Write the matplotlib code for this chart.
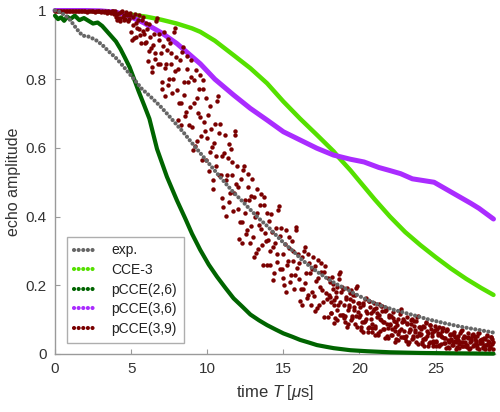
import numpy as np
import matplotlib
matplotlib.use("Agg")
import matplotlib.pyplot as plt
from matplotlib.lines import Line2D

plt.rcParams['font.family'] = ['Liberation Sans', 'DejaVu Sans']
plt.rcParams['mathtext.fontset'] = 'custom'
plt.rcParams['mathtext.rm'] = 'Liberation Sans'
plt.rcParams['mathtext.it'] = 'Liberation Sans:italic'

# ---------------- data ----------------
series_names = ["exp.", "CCE-3", "pCCE(2,6)", "pCCE(3,6)", "pCCE(3,9)"]

exp_t = [0, 0.35, 0.7, 1.0, 1.45, 1.8, 2.2, 2.65, 3.1, 3.5, 4.0, 4.4, 4.85, 5.3,
         5.7, 6.3, 6.9, 7.35, 8.0, 8.44, 9.0, 9.54, 10.1, 10.64, 11.2, 11.73,
         12.3, 12.83, 13.5, 14.0, 14.58, 15.1, 15.68, 16.2, 16.78, 17.3, 17.87,
         18.5, 19.1, 19.7, 20.3, 21.27, 22.3, 23.47, 24.5, 25.66, 26.7, 27.85, 28.84]
exp_y = [1.0, 0.995, 0.985, 0.972, 0.945, 0.927, 0.924, 0.915, 0.90, 0.882, 0.862,
         0.842, 0.818, 0.794, 0.772, 0.748, 0.722, 0.70, 0.667, 0.645, 0.614, 0.585,
         0.555, 0.526, 0.497, 0.47, 0.445, 0.42, 0.39, 0.37, 0.343, 0.32, 0.298,
         0.275, 0.254, 0.237, 0.22, 0.203, 0.19, 0.175, 0.162, 0.143, 0.128, 0.114,
         0.101, 0.089, 0.079, 0.07, 0.062]

cce3_t = [0, 1, 2, 3, 4, 5, 6, 7, 8, 9, 9.54, 10.5, 11.73, 12.83, 13.93, 15.0,
          16.1, 17.2, 18.3, 18.64, 19.4, 20.0, 21.0, 22.0, 23.0, 24.0, 25.0,
          26.0, 27.0, 28.0, 28.8]
cce3_y = [1.0, 1.0, 0.999, 0.997, 0.993, 0.988, 0.982, 0.973, 0.962, 0.948, 0.938,
          0.912, 0.870, 0.832, 0.788, 0.735, 0.685, 0.638, 0.59, 0.572, 0.535, 0.503,
          0.45, 0.40, 0.355, 0.317, 0.282, 0.249, 0.219, 0.192, 0.172]

p26_t = [0, 0.2, 0.4, 0.6, 0.8, 1.0, 1.3, 1.6, 1.9, 2.2, 2.5, 2.8, 3.1, 3.4, 3.7,
         4.0, 4.3, 4.6, 4.9, 5.2, 5.5, 5.85, 6.2, 6.7, 7.35, 8.0, 8.55, 9.0, 9.54,
         10.1, 10.64, 11.2, 11.73, 12.3, 12.83, 13.4, 13.93, 14.5, 15.0, 15.6, 16.1,
         16.7, 17.2, 17.8, 18.3, 19.4, 20.5, 22.0, 24.0, 26.0, 28.8]
p26_y = [0.985, 0.975, 0.98, 0.97, 0.982, 0.975, 0.985, 0.972, 0.978, 0.97, 0.962,
         0.965, 0.955, 0.94, 0.925, 0.91, 0.888, 0.862, 0.835, 0.80, 0.764, 0.725,
         0.685, 0.597, 0.516, 0.448, 0.395, 0.35, 0.303, 0.26, 0.225, 0.192, 0.162,
         0.138, 0.115, 0.098, 0.084, 0.071, 0.06, 0.05, 0.041, 0.033, 0.026, 0.021,
         0.017, 0.011, 0.008, 0.005, 0.003, 0.002, 0.001]

p36_t = [0, 1, 2, 3, 4, 4.7, 5.8, 7.0, 8.0, 9.54, 10.5, 11.73, 12.83, 13.93, 15.0,
         16.1, 17.2, 18.3, 19.4, 20.3, 21.27, 22.0, 22.7, 23.47, 24.9, 26.0, 27.3,
         27.85, 28.8]
p36_y = [1.0, 1.0, 1.0, 0.999, 0.995, 0.987, 0.965, 0.935, 0.904, 0.845, 0.80,
         0.754, 0.715, 0.681, 0.647, 0.623, 0.599, 0.579, 0.567, 0.559, 0.543, 0.534,
         0.525, 0.51, 0.50, 0.472, 0.439, 0.424, 0.393]

# pCCE(3,9), first sampling: one value every 0.1 us from 0 to 28.8
p39_t = np.round(np.arange(0, 28.85, 0.1), 2)
p39_y = [
    # 0.0 - 3.5
    1.0, 0.999, 1.0, 0.998, 1.0, 0.999, 1.0, 1.0, 0.998, 1.0, 0.999, 1.0,
    1.0, 0.998, 1.0, 0.999, 1.0, 0.998, 1.0, 0.999, 1.0, 0.997, 1.0, 0.999,
    0.998, 1.0, 0.996, 1.0, 0.998, 0.999, 0.995, 1.0, 0.997, 0.999, 0.994, 1.0,
    # 3.6 - 3.9
    0.997, 0.992, 1.0, 0.994,
    0.982, 0.971, 0.994, 0.978, 0.998, 0.986, 0.974, 0.990, 0.970, 0.987,  # 4
    0.937, 0.982, 0.919, 0.964, 0.950, 0.986, 0.928, 0.973, 0.941, 0.905,  # 5
    0.907, 0.852, 0.962, 0.891, 0.836, 0.931, 0.875, 0.978, 0.915, 0.844,  # 6
    0.792, 0.896, 0.750, 0.844, 0.917, 0.802, 0.875, 0.761, 0.938, 0.823,  # 7
    0.768, 0.680, 0.855, 0.730, 0.893, 0.793, 0.705, 0.830, 0.668, 0.805,  # 8
    0.661, 0.799, 0.606, 0.744, 0.703, 0.813, 0.634, 0.771, 0.675, 0.565,  # 9
    0.629, 0.534, 0.723, 0.602, 0.507, 0.669, 0.575, 0.750, 0.642, 0.521,  # 10
    0.455, 0.585, 0.403, 0.520, 0.611, 0.468, 0.559, 0.416, 0.637, 0.494,  # 11
    0.423, 0.335, 0.510, 0.385, 0.548, 0.448, 0.360, 0.485, 0.323, 0.460,  # 12
    0.341, 0.456, 0.295, 0.410, 0.375, 0.467, 0.318, 0.433, 0.352, 0.260,  # 13
    0.333, 0.258, 0.409, 0.312, 0.237, 0.366, 0.290, 0.430, 0.344, 0.247,  # 14
    0.220, 0.320, 0.180, 0.270, 0.340, 0.230, 0.300, 0.190, 0.360, 0.250,  # 15
    0.218, 0.153, 0.283, 0.190, 0.311, 0.236, 0.171, 0.264, 0.143, 0.246,  # 16
    0.169, 0.257, 0.133, 0.221, 0.195, 0.265, 0.151, 0.239, 0.177, 0.107,  # 17
    0.173, 0.120, 0.225, 0.158, 0.105, 0.195, 0.143, 0.240, 0.180, 0.113,  # 18
    0.104, 0.167, 0.079, 0.136, 0.179, 0.111, 0.154, 0.086, 0.192, 0.123,  # 19
    0.108, 0.069, 0.148, 0.092, 0.164, 0.120, 0.080, 0.136, 0.064, 0.125,  # 20
    0.082, 0.134, 0.062, 0.114, 0.098, 0.140, 0.072, 0.124, 0.088, 0.046,  # 21
    0.087, 0.054, 0.121, 0.078, 0.045, 0.102, 0.068, 0.130, 0.092, 0.049,  # 22
    0.048, 0.091, 0.030, 0.069, 0.099, 0.052, 0.082, 0.035, 0.108, 0.060,  # 23
    0.055, 0.028, 0.082, 0.043, 0.093, 0.062, 0.035, 0.074, 0.024, 0.066,  # 24
    0.039, 0.072, 0.026, 0.059, 0.049, 0.075, 0.033, 0.066, 0.042, 0.016,  # 25
    0.045, 0.025, 0.064, 0.039, 0.020, 0.053, 0.034, 0.070, 0.048, 0.022,  # 26
    0.025, 0.050, 0.015, 0.037, 0.055, 0.027, 0.045, 0.017, 0.060, 0.032,  # 27
    0.032, 0.016, 0.047, 0.025, 0.054, 0.036, 0.021, 0.043, 0.014,         # 28
]

# pCCE(3,9), interleaved samples: one value every 0.1 us from 3.65 to 28.75
p39b_t = np.round(np.arange(3.65, 28.8, 0.1), 2)
p39b_y = [
    0.995, 1.0, 0.991, 0.998,                                               # 3.65-3.95
    0.990, 0.978, 0.970, 0.997, 0.981, 0.973, 0.995, 0.986, 0.976, 0.994,  # 4
    0.914, 0.959, 0.991, 0.923, 0.973, 0.946, 0.905, 0.982, 0.932, 0.964,  # 5
    0.946, 0.883, 0.923, 0.820, 0.899, 0.860, 0.970, 0.844, 0.931, 0.875,  # 6
    0.771, 0.938, 0.834, 0.886, 0.782, 0.906, 0.844, 0.802, 0.948, 0.865,  # 7
    0.830, 0.730, 0.668, 0.880, 0.755, 0.693, 0.868, 0.793, 0.718, 0.855,  # 8
    0.593, 0.730, 0.826, 0.620, 0.771, 0.689, 0.565, 0.799, 0.648, 0.744,  # 9
    0.696, 0.588, 0.656, 0.480, 0.615, 0.548, 0.737, 0.521, 0.669, 0.575,  # 10
    0.429, 0.637, 0.507, 0.572, 0.442, 0.598, 0.520, 0.468, 0.650, 0.546,  # 11
    0.485, 0.385, 0.323, 0.535, 0.410, 0.348, 0.523, 0.448, 0.373, 0.510,  # 12
    0.283, 0.398, 0.479, 0.306, 0.433, 0.364, 0.260, 0.456, 0.329, 0.410,  # 13
    0.387, 0.301, 0.355, 0.215, 0.323, 0.269, 0.419, 0.247, 0.366, 0.290,  # 14
    0.200, 0.360, 0.260, 0.310, 0.210, 0.330, 0.270, 0.230, 0.370, 0.290,  # 15
    0.264, 0.190, 0.143, 0.301, 0.208, 0.162, 0.292, 0.236, 0.181, 0.283,  # 16
    0.125, 0.213, 0.274, 0.142, 0.239, 0.186, 0.107, 0.257, 0.160, 0.221,  # 17
    0.210, 0.150, 0.188, 0.090, 0.165, 0.128, 0.233, 0.113, 0.195, 0.143,  # 18
    0.092, 0.192, 0.129, 0.161, 0.098, 0.173, 0.136, 0.111, 0.198, 0.148,  # 19
    0.136, 0.092, 0.064, 0.159, 0.103, 0.075, 0.153, 0.120, 0.086, 0.148,  # 20
    0.056, 0.108, 0.145, 0.067, 0.124, 0.093, 0.046, 0.134, 0.077, 0.114,  # 21
    0.111, 0.073, 0.097, 0.035, 0.083, 0.059, 0.125, 0.049, 0.102, 0.068,  # 22
    0.039, 0.108, 0.065, 0.086, 0.043, 0.095, 0.069, 0.052, 0.112, 0.078,  # 23
    0.074, 0.043, 0.024, 0.089, 0.051, 0.032, 0.085, 0.062, 0.039, 0.082,  # 24
    0.023, 0.056, 0.079, 0.029, 0.066, 0.046, 0.016, 0.072, 0.036, 0.059,  # 25
    0.059, 0.036, 0.050, 0.014, 0.042, 0.028, 0.067, 0.022, 0.053, 0.034,  # 26
    0.019, 0.060, 0.035, 0.047, 0.022, 0.052, 0.037, 0.027, 0.062, 0.042,  # 27
    0.043, 0.025, 0.014, 0.052, 0.030, 0.019, 0.049, 0.036,                # 28
]

# pCCE(3,9), extra samples in the dense tail: every 0.1 us from 18.03 to 28.73
p39c_t = np.round(np.arange(18.03, 28.75, 0.1), 2)
p39c_y = [
    0.165, 0.120, 0.203, 0.143, 0.180, 0.098, 0.218, 0.150, 0.113, 0.188,  # 18
    0.111, 0.161, 0.086, 0.142, 0.186, 0.104, 0.129, 0.173, 0.079, 0.148,  # 19
    0.114, 0.080, 0.142, 0.097, 0.125, 0.064, 0.153, 0.103, 0.075, 0.131,  # 20
    0.077, 0.119, 0.056, 0.103, 0.140, 0.072, 0.093, 0.129, 0.051, 0.108,  # 21
    0.083, 0.054, 0.106, 0.068, 0.092, 0.040, 0.116, 0.073, 0.049, 0.097,  # 22
    0.052, 0.086, 0.035, 0.073, 0.103, 0.048, 0.065, 0.095, 0.030, 0.078,  # 23
    0.059, 0.035, 0.078, 0.047, 0.066, 0.024, 0.085, 0.051, 0.032, 0.070,  # 24
    0.036, 0.062, 0.023, 0.052, 0.075, 0.033, 0.046, 0.069, 0.019, 0.056,  # 25
    0.042, 0.025, 0.056, 0.034, 0.048, 0.017, 0.062, 0.036, 0.022, 0.050,  # 26
    0.027, 0.047, 0.017, 0.040, 0.057, 0.025, 0.035, 0.052, 0.015, 0.042,  # 27
    0.034, 0.021, 0.045, 0.027, 0.038, 0.014, 0.049, 0.030,                # 28
]

x_ticks = [0, 5, 10, 15, 20, 25]
y_ticks = [0, 0.2, 0.4, 0.6, 0.8, 1.0]
y_ticklabels = ["0", "0.2", "0.4", "0.6", "0.8", "1"]

# ---------------- style ----------------
c_exp = "#666666"
c_cce3 = "#55e000"
c_p26 = "#006400"
c_p36 = "#aa2cff"
c_p39 = "#7a0000"
txt = "#333333"
axc = "#9a9a9a"

fig = plt.figure(figsize=(5.0, 4.12), dpi=100)
ax = fig.add_axes([0.11, 0.1408, 0.88, 0.8337])

kw = dict(solid_capstyle="round", clip_on=False)
ax.plot(cce3_t, cce3_y, color=c_cce3, lw=3.2, zorder=2, **kw)
ax.plot(p26_t, p26_y, color=c_p26, lw=3.0, zorder=3, **kw)
ax.plot(p36_t, p36_y, color=c_p36, lw=3.6, zorder=3, **kw)
for tt, yy in [(p39_t, p39_y), (p39b_t, p39b_y), (p39c_t, p39c_y)]:
    ax.plot(tt, yy, 'o', color=c_p39, ms=3.2, mew=0, zorder=4, clip_on=False)
ax.plot(exp_t, exp_y, color=c_exp, lw=3.0, ls=(0, (0.01, 1.05)),
        dash_capstyle="round", zorder=5, clip_on=False)

ax.set_xlim(0, 28.9)
ax.set_ylim(0, 1)
ax.set_xticks(x_ticks)
ax.set_yticks(y_ticks)
ax.set_yticklabels(y_ticklabels)

for s in ["top", "right"]:
    ax.spines[s].set_visible(False)
for s in ["left", "bottom"]:
    ax.spines[s].set_color(axc)
    ax.spines[s].set_linewidth(1.0)
ax.tick_params(direction="in", length=3.5, width=0.8, color=axc,
               labelsize=11, labelcolor=txt, pad=6)

ax.set_xlabel("time $T$ [$\\mu$s]", fontsize=12, color=txt, labelpad=5)
ax.set_ylabel("echo amplitude", fontsize=11.5, color=txt, labelpad=3)

handles = []
for col in [c_exp, c_cce3, c_p26, c_p36, c_p39]:
    handles.append(Line2D([0], [0], color=col, lw=3.0, ls=(0, (0.01, 1.1)),
                          dash_capstyle="round"))
leg = ax.legend(handles, series_names, loc="lower left",
                bbox_to_anchor=(0.027, 0.033), borderaxespad=0,
                fontsize=10, frameon=True, fancybox=False,
                handlelength=1.5, handletextpad=1.2, labelspacing=0.4,
                borderpad=0.5)
leg.get_frame().set_edgecolor(axc)
leg.get_frame().set_linewidth(1.0)
for t in leg.get_texts():
    t.set_color("#222222")

fig.savefig("out.png", dpi=100)
